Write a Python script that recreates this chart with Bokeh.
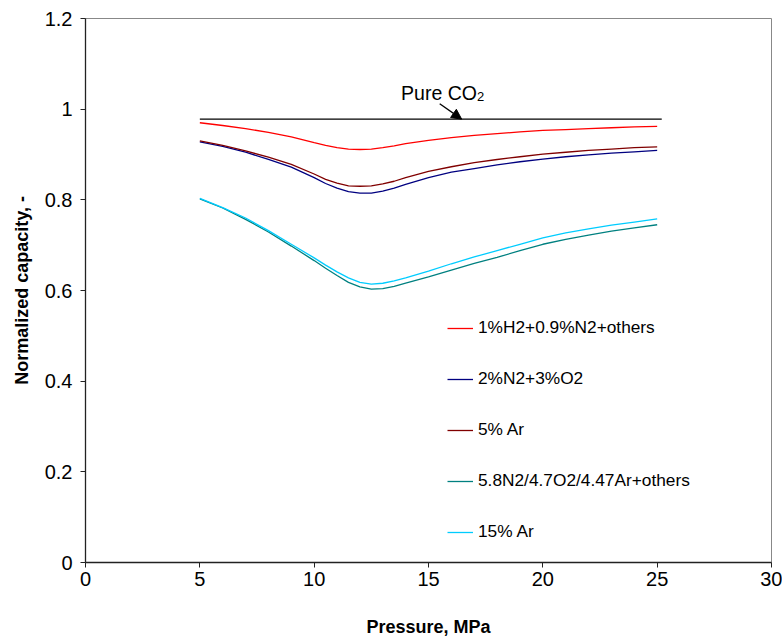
from bokeh.plotting import figure
from bokeh.models import Range1d, Legend, LegendItem, Label, Arrow, NormalHead, FixedTicker
from bokeh.embed import file_html
from bokeh.resources import INLINE

# ---- data ----
pressure = [5, 6, 7, 8, 9, 10, 10.5, 11, 11.5, 12, 12.5, 13, 13.5, 14,
            15, 16, 17, 18, 19, 20, 21, 22, 23, 24, 25]

h2_n2 = [0.970, 0.964, 0.957, 0.949, 0.939, 0.926, 0.920, 0.915, 0.912, 0.911, 0.912, 0.915, 0.919, 0.924,
         0.931, 0.937, 0.942, 0.946, 0.950, 0.953, 0.955, 0.957, 0.959, 0.961, 0.962]
n2_o2 = [0.928, 0.918, 0.905, 0.889, 0.872, 0.849, 0.836, 0.826, 0.818, 0.815, 0.815, 0.819, 0.826, 0.834,
         0.849, 0.861, 0.869, 0.877, 0.884, 0.890, 0.895, 0.899, 0.903, 0.906, 0.909]
ar5 = [0.930, 0.920, 0.908, 0.894, 0.878, 0.857, 0.845, 0.837, 0.831, 0.830, 0.831, 0.835, 0.841, 0.849,
       0.863, 0.873, 0.882, 0.889, 0.895, 0.901, 0.905, 0.909, 0.912, 0.915, 0.917]
mix58 = [0.802, 0.782, 0.757, 0.729, 0.698, 0.666, 0.649, 0.633, 0.618, 0.608, 0.603, 0.604, 0.609, 0.616,
         0.630, 0.645, 0.660, 0.673, 0.688, 0.702, 0.713, 0.722, 0.731, 0.738, 0.745]
ar15 = [0.803, 0.783, 0.760, 0.732, 0.702, 0.672, 0.656, 0.641, 0.628, 0.618, 0.614, 0.616, 0.621, 0.628,
        0.643, 0.659, 0.674, 0.688, 0.702, 0.716, 0.727, 0.736, 0.744, 0.751, 0.758]

pure_x = [5, 25.2]
pure_y = [0.978, 0.978]

series_labels = ["1%H2+0.9%N2+others", "2%N2+3%O2", "5% Ar", "5.8N2/4.7O2/4.47Ar+others", "15% Ar"]
series_colors = ["#FF0000", "#000080", "#800000", "#008080", "#00CCFF"]

x_ticks = [0, 5, 10, 15, 20, 25, 30]
y_ticks = [0, 0.2, 0.4, 0.6, 0.8, 1, 1.2]
y_tick_labels = ["0", "0.2", "0.4", "0.6", "0.8", "1", "1.2"]

FONT = "Liberation Sans"

p = figure(width=782, height=639, output_backend="svg", toolbar_location=None,
           x_range=Range1d(0, 30), y_range=Range1d(0, 1.2),
           min_border_left=85, min_border_right=11, min_border_top=18, min_border_bottom=72)

p.xgrid.visible = False
p.ygrid.visible = False
p.outline_line_color = "#888888"
p.outline_line_width = 1
p.background_fill_color = "white"
p.border_fill_color = "white"

for ax in (p.xaxis[0], p.yaxis[0]):
    ax.axis_line_color = "#222222"
    ax.axis_line_width = 1.3
    ax.major_tick_line_color = "#222222"
    ax.major_tick_in = 0
    ax.major_tick_out = 5
    ax.minor_tick_line_color = None
    ax.major_label_text_font = FONT
    ax.major_label_text_font_size = "20px"
    ax.major_label_text_color = "black"
    ax.axis_label_text_font = FONT
    ax.axis_label_text_font_style = "bold"
    ax.axis_label_text_font_size = "18px"
    ax.axis_label_text_color = "black"

p.xaxis.ticker = FixedTicker(ticks=x_ticks)
p.yaxis.ticker = FixedTicker(ticks=y_ticks)
p.yaxis.major_label_overrides = {t: s for t, s in zip(y_ticks, y_tick_labels)}
p.xaxis.axis_label = "Pressure, MPa"
p.yaxis.axis_label = "Normalized capacity, -"
p.xaxis.major_label_standoff = 4
p.yaxis.major_label_standoff = 8
p.xaxis.axis_label_standoff = 28
p.yaxis.axis_label_standoff = 10

# Pure CO2 line
p.line(pure_x, pure_y, line_color="black", line_width=1.4)

renderers = []
for ys, col in zip([h2_n2, n2_o2, ar5, mix58, ar15], series_colors):
    r = p.line(pressure, ys, line_color=col, line_width=1.3)
    renderers.append(r)

items = [LegendItem(label=lab, renderers=[r]) for lab, r in zip(series_labels, renderers)]
legend = Legend(items=items, location=(362, 20), border_line_color=None,
                background_fill_alpha=0, padding=0, margin=0, spacing=30,
                glyph_height=20, glyph_width=26, label_height=20, label_standoff=5,
                label_text_font=FONT, label_text_font_size="17.3px", label_text_color="black")
p.add_layout(legend)

# annotation "Pure CO2" with subscript
p.add_layout(Label(x=13.8, y=1.036, text="Pure CO", text_font=FONT, text_font_size="19.5px",
                   text_color="black", text_baseline="alphabetic"))
p.add_layout(Label(x=13.8, y=1.036, x_offset=76, y_offset=-4, text="2", text_font=FONT,
                   text_font_size="13px", text_color="black", text_baseline="alphabetic"))
p.add_layout(Arrow(end=NormalHead(size=10, fill_color="black", line_color="black"),
                   x_start=15.49, y_start=1.012, x_end=16.45, y_end=0.978,
                   line_color="black", line_width=1.3))

open("out.html", "w").write(file_html(p, INLINE))
